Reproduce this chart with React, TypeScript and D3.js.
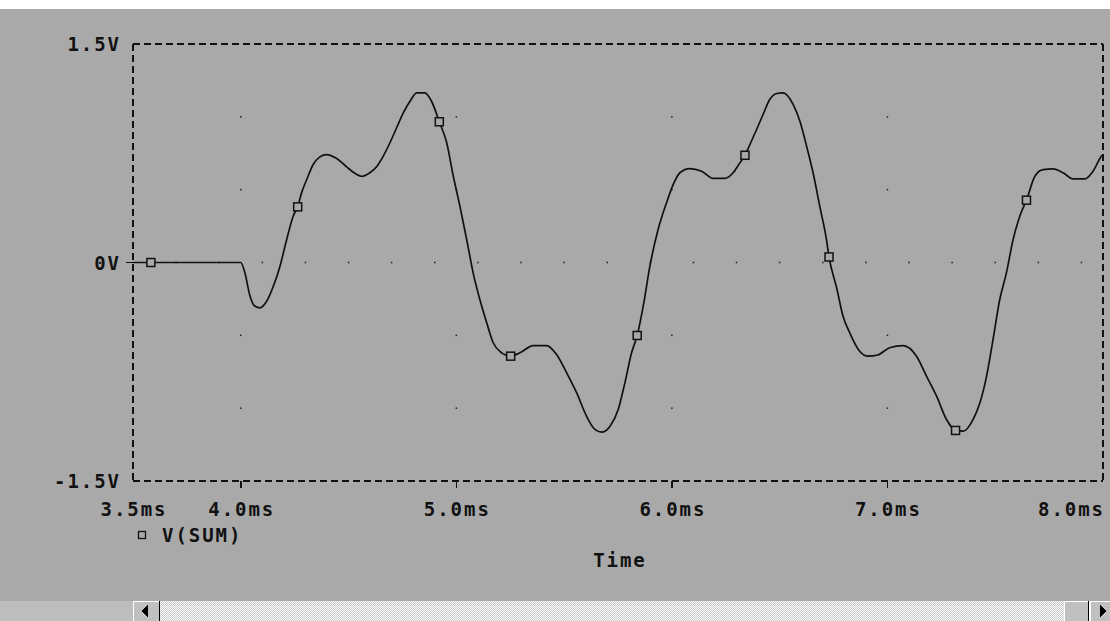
import React from "react";
import * as d3 from "d3";

// ---- data (time in ms, voltage in V) ----
const timeMs = [
  3.5, 3.583, 4.0, 4.019, 4.043, 4.066, 4.089, 4.12, 4.151, 4.182, 4.213, 4.243, 4.264, 4.282, 4.306,
  4.336, 4.367, 4.398, 4.445, 4.491, 4.522, 4.561, 4.599, 4.63, 4.661, 4.692, 4.723, 4.754, 4.785,
  4.816, 4.854, 4.885, 4.921, 4.955, 4.986, 5.017, 5.048, 5.078, 5.109, 5.141, 5.171, 5.21, 5.252,
  5.295, 5.357, 5.419, 5.465, 5.512, 5.558, 5.604, 5.643, 5.674, 5.713, 5.751, 5.782, 5.813, 5.839,
  5.867, 5.898, 5.936, 5.975, 6.006, 6.037, 6.083, 6.138, 6.192, 6.246, 6.284, 6.315, 6.339, 6.362,
  6.393, 6.423, 6.454, 6.486, 6.516, 6.563, 6.594, 6.625, 6.655, 6.686, 6.717, 6.729, 6.764, 6.794,
  6.825, 6.871, 6.91, 6.955, 7.01, 7.073, 7.135, 7.181, 7.228, 7.274, 7.316, 7.351, 7.397, 7.429,
  7.46, 7.49, 7.521, 7.552, 7.583, 7.614, 7.645, 7.684, 7.722, 7.769, 7.815, 7.861, 7.916, 7.954,
  7.993, 8.0,
];
const voltage = [
  0, 0, 0, -0.071, -0.231, -0.3, -0.311, -0.266, -0.163, -0.025, 0.158, 0.318, 0.382, 0.478, 0.57,
  0.673, 0.725, 0.741, 0.714, 0.657, 0.62, 0.592, 0.616, 0.657, 0.73, 0.822, 0.925, 1.027, 1.107,
  1.165, 1.165, 1.107, 0.966, 0.824, 0.592, 0.384, 0.158, -0.071, -0.254, -0.414, -0.551, -0.62, -0.643,
  -0.62, -0.57, -0.57, -0.631, -0.757, -0.894, -1.055, -1.146, -1.165, -1.124, -1.009, -0.826, -0.62, -0.501,
  -0.3, -0.025, 0.226, 0.41, 0.535, 0.616, 0.645, 0.627, 0.577, 0.577, 0.616, 0.684, 0.736, 0.81,
  0.913, 1.016, 1.119, 1.16, 1.165, 1.084, 0.97, 0.798, 0.616, 0.386, 0.158, 0.038, -0.172, -0.369,
  -0.483, -0.609, -0.643, -0.635, -0.585, -0.57, -0.643, -0.78, -0.918, -1.078, -1.153, -1.158, -1.078, -0.963,
  -0.78, -0.528, -0.254, -0.071, 0.158, 0.318, 0.428, 0.592, 0.638, 0.643, 0.616, 0.574, 0.574, 0.627,
  0.73, 0.741,
];
const markerTimes = [3.583, 4.264, 4.921, 5.252, 5.839, 6.339, 6.729, 7.316, 7.645];

const xTicks = [3.5, 4.0, 5.0, 6.0, 7.0, 8.0];
const xTickLabels = ["3.5ms", "4.0ms", "5.0ms", "6.0ms", "7.0ms", "8.0ms"];
const yTicks = [1.5, 0, -1.5];
const yTickLabels = ["1.5V", "0V", "-1.5V"];
const seriesName = "V(SUM)";
const xTitle = "Time";

const W = 1110;
const H = 621;
const BG = "#a9a9a9";
const INK = "#111";
const FONT = "'DejaVu Sans Mono', monospace";
const CH = 13.4; // char advance

function tl(s: string) {
  return s.length * CH - 2;
}

export default function App() {
  const x = d3.scaleLinear().domain([3.5, 8.0]).range([133, 1103]);
  const y = d3.scaleLinear().domain([-1.5, 1.5]).range([481, 44]);
  const pts = timeMs.map((t, i) => [t, voltage[i]] as [number, number]);
  const line = d3
    .line<[number, number]>()
    .x((d) => x(d[0]))
    .y((d) => y(d[1]))
    .curve(d3.curveMonotoneX);

  const markers = markerTimes
    .map((mt) => pts.find((p) => Math.abs(p[0] - mt) < 1e-6))
    .filter(Boolean) as [number, number][];

  // grid dots
  const dots: [number, number][] = [];
  const zeroDots = d3.range(0, 23).map((k) => 3.5 + k * 0.2).filter((t) => t < 8.0 - 1e-6 && t > 3.5 + 1e-6);
  zeroDots.forEach((t) => dots.push([t, 0]));
  [4, 5, 6, 7].forEach((t) => [-1, -0.5, 0.5, 1].forEach((v) => dots.push([t, v])));

  const textStyle = {
    fontFamily: FONT,
    fontWeight: 700,
    fontSize: 19,
    fill: INK,
  } as React.CSSProperties;

  const x0 = x.range()[0];
  const x1 = x.range()[1];
  const yTop = y.range()[1];
  const yBot = y.range()[0];

  return (
    <svg
      width={W}
      height={H}
      style={{ position: "absolute", left: 0, top: 0, display: "block" }}
    >
      <defs>
        <pattern id="chk" width="2" height="2" patternUnits="userSpaceOnUse">
          <rect width="2" height="2" fill="#c8c8c8" />
          <rect width="1" height="1" fill="#ffffff" />
          <rect x="1" y="1" width="1" height="1" fill="#ffffff" />
        </pattern>
      </defs>
      <rect x={0} y={0} width={W} height={H} fill="#fff" />
      <rect x={0} y={9} width={W} height={592} fill={BG} />

      {/* grid dots */}
      {dots.map((d, i) => (
        <rect key={i} x={x(d[0]) - 0.75} y={y(d[1]) - 0.75} width={1.5} height={1.5} fill="#222" />
      ))}

      {/* dashed frame */}
      <g stroke={INK} strokeWidth={2} fill="none" strokeDasharray="7,4" shapeRendering="crispEdges">
        <line x1={x0} y1={yTop} x2={x1} y2={yTop} />
        <line x1={x0} y1={yBot} x2={x1} y2={yBot} />
        <line x1={x0} y1={yTop} x2={x0} y2={yBot} />
        <line x1={x1} y1={yTop} x2={x1} y2={yBot} />
      </g>

      {/* ticks */}
      <g stroke={INK} strokeWidth={1.5} shapeRendering="crispEdges">
        {xTicks.slice(1, -1).map((t) => (
          <line key={t} x1={x(t)} x2={x(t)} y1={yBot} y2={yBot + 7} />
        ))}
        <line x1={x0 - 7} x2={x0 + 7} y1={y(0)} y2={y(0)} />
      </g>

      {/* y labels */}
      {yTicks.map((v, i) => (
        <text
          key={v}
          x={119}
          y={y(v) + 7}
          textAnchor="end"
          style={textStyle}
          textLength={tl(yTickLabels[i])}
          lengthAdjust="spacing"
        >
          {yTickLabels[i]}
        </text>
      ))}

      {/* x labels */}
      {xTicks.map((t, i) => {
        const w = tl(xTickLabels[i]);
        let cx = x(t);
        if (cx + w / 2 > x1) cx = x1 - w / 2;
        return (
          <text
            key={t}
            x={cx}
            y={516}
            textAnchor="middle"
            style={textStyle}
            textLength={w}
            lengthAdjust="spacing"
          >
            {xTickLabels[i]}
          </text>
        );
      })}

      {/* curve */}
      <path d={line(pts) || ""} fill="none" stroke={INK} strokeWidth={1.7} strokeLinejoin="round" />

      {/* markers */}
      {markers.map((p, i) => (
        <rect
          key={i}
          x={x(p[0]) - 4}
          y={y(p[1]) - 4}
          width={8}
          height={8}
          fill={BG}
          stroke={INK}
          strokeWidth={1.5}
        />
      ))}

      {/* legend */}
      <rect x={138.5} y={531.5} width={7} height={7} fill="none" stroke={INK} strokeWidth={1.3} />
      <text x={162} y={542} style={textStyle} textLength={tl(seriesName)} lengthAdjust="spacing">
        {seriesName}
      </text>

      {/* axis title */}
      <text x={619} y={567} textAnchor="middle" style={textStyle} textLength={tl(xTitle)} lengthAdjust="spacing">
        {xTitle}
      </text>

      {/* scrollbar */}
      <g shapeRendering="crispEdges">
        <rect x={0} y={601} width={133} height={20} fill="#bdbdbd" />
        <rect x={160} y={601} width={904} height={20} fill="url(#chk)" />
        {/* left button */}
        <rect x={133} y={601} width={26} height={20} fill="#c0c0c0" />
        <line x1={133.5} y1={601} x2={133.5} y2={621} stroke="#fff" />
        <line x1={133} y1={601.5} x2={159} y2={601.5} stroke="#fff" />
        <line x1={159.5} y1={601} x2={159.5} y2={621} stroke="#000" />
        <path d="M141,611 L148,605 L148,617 Z" fill="#000" />
        {/* thumb */}
        <rect x={1064} y={601} width={24} height={20} fill="#c0c0c0" />
        <line x1={1064.5} y1={601} x2={1064.5} y2={621} stroke="#fff" />
        <line x1={1064} y1={601.5} x2={1088} y2={601.5} stroke="#fff" />
        <line x1={1088.5} y1={601} x2={1088.5} y2={621} stroke="#000" />
        {/* right button */}
        <rect x={1090} y={601} width={20} height={20} fill="#c0c0c0" />
        <line x1={1090.5} y1={601} x2={1090.5} y2={621} stroke="#fff" />
        <line x1={1090} y1={601.5} x2={1110} y2={601.5} stroke="#fff" />
        <path d="M1107,611 L1100,605 L1100,617 Z" fill="#000" />
      </g>
    </svg>
  );
}
